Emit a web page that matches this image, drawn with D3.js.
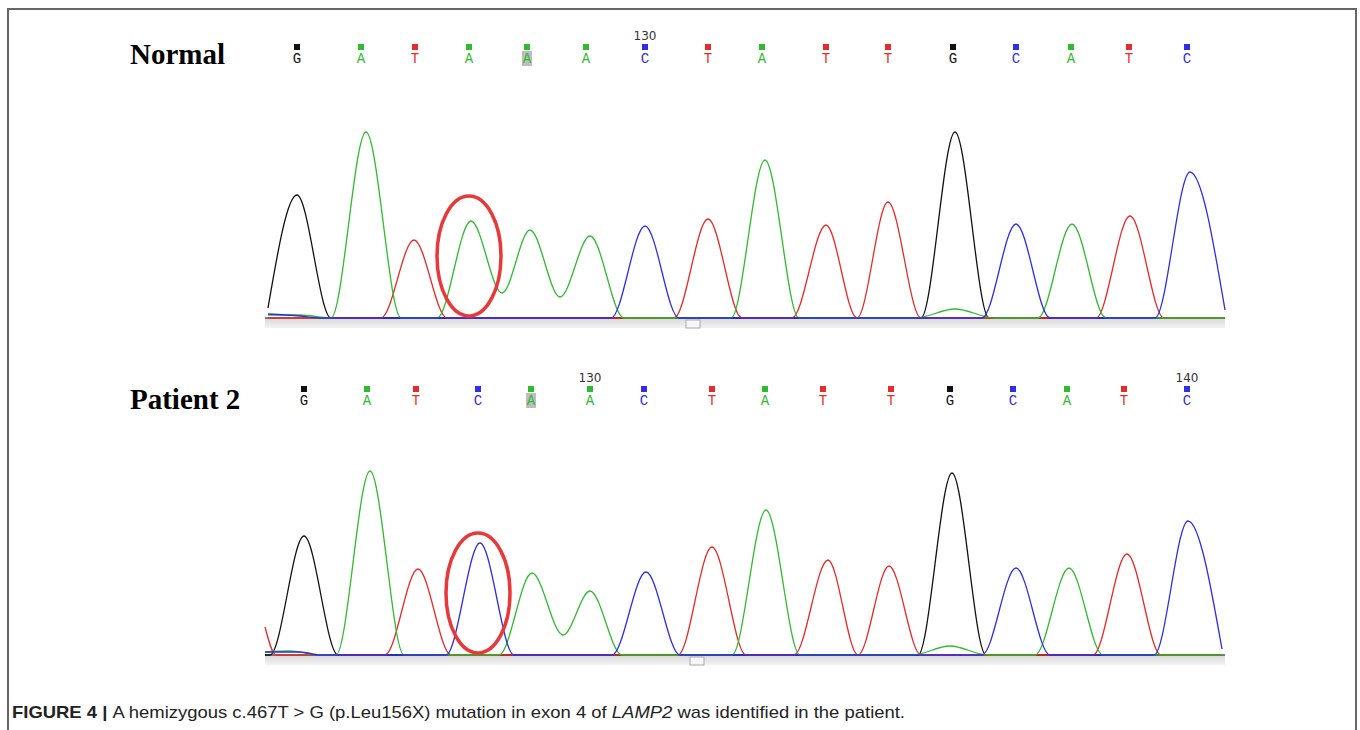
<!DOCTYPE html>
<html>
<head>
	<title>Figure 4 chromatogram</title>
	<script src="https://d3js.org/d3.v7.min.js"></script>
	<style>
		body { margin: 0; background: #fff; }
	</style>
</head>
<body>
	<div id="fig"></div>
	<script>
		// base calls (scan position along the trace, letter)
		var callsNormal = "GATAAACTATTGCATC".split("");
		var callPosNormal = [32, 96, 150, 204, 262, 321, 380, 443, 497, 561, 623, 688, 751, 806, 864, 922];
		var callsPatient = "GATCAACTATTGCATC".split("");
		var callPosPatient = [39, 102, 151, 213, 266, 325, 379, 447, 500, 558, 626, 685, 748, 802, 859, 922];

		// position numbers shown above some calls: [call index, label]
		var numbersNormal = [[6, "130"]];
		var numbersPatient = [[5, "130"], [15, "140"]];

		// trace points per channel: [scan, signal]
		var normalA = [[3,3],[35,3],[66,0],[101,186],[136,0],[172,0],[206,97],[237,25],[265,88],[295,21],[325,82],[359,0],[466,0],[500,158],[534,0],[650,0],[690,9],[730,0],[773,0],[807,94],[841,0],[960,0]];
		var normalC = [[3,4],[35,2],[55,0],[346,0],[380,92],[414,0],[717,0],[751,94],[785,0],[890,0],[925,146],[960,8]];
		var normalG = [[3,10],[32,123],[66,0],[656,0],[690,186],[724,0],[960,0]];
		var normalT = [[3,0],[116,0],[149,78],[182,0],[409,0],[443,99],[477,0],[527,0],[561,93],[592,0],[623,116],[656,0],[831,0],[865,102],[899,0],[960,0]];

		var patientA = [[0,3],[25,4],[55,0],[71,0],[105,184],[139,0],[234,0],[267,82],[298,20],[325,64],[357,0],[467,0],[501,145],[535,0],[647,0],[685,9],[723,0],[770,0],[804,87],[838,0],[957,0]];
		var patientC = [[0,3],[35,3],[55,0],[181,0],[215,112],[249,0],[347,0],[381,83],[415,0],[717,0],[751,87],[785,0],[889,0],[923,134],[957,6]];
		var patientG = [[0,0],[5,0],[39,119],[73,0],[653,0],[687,182],[721,0],[957,0]];
		var patientT = [[0,28],[11,0],[120,0],[153,86],[186,0],[413,0],[447,108],[481,0],[529,0],[563,95],[593,0],[624,89],[656,0],[828,0],[862,101],[896,0],[957,0]];

		var baseColor = {A: "#2fba2f", C: "#2f2fe0", G: "#111111", T: "#e52b2b"};

		var svg = d3.select("#fig")
			.append("svg")
			.attr("width", 1360)
			.attr("height", 730);

		// outer frame (left, top, right)
		svg.append("path")
			.attr("d", "M8,730 L8,9 L1356,9 L1356,730")
			.style("fill", "none")
			.style("stroke", "#666")
			.style("stroke-width", 2);

		var grad = svg.append("defs").append("linearGradient")
			.attr("id", "bar").attr("x1", 0).attr("y1", 0).attr("x2", 0).attr("y2", 1);
		grad.append("stop").attr("offset", "0%").attr("stop-color", "#d9d9d9");
		grad.append("stop").attr("offset", "100%").attr("stop-color", "#f3f3f3");

		function panel(opts){
			var x = d3.scaleLinear().domain([0, 960]).range([opts.x0, 1225]);
			var y = d3.scaleLinear().domain([0, 200]).range([opts.baseline, opts.baseline - 200]);
			var g = svg.append("g");

			g.append("text")
				.text(opts.title)
				.attr("x", 130)
				.attr("y", opts.titleY)
				.style("font-family", "'Liberation Serif', 'Times New Roman', serif")
				.style("font-weight", "bold")
				.style("font-size", "29px");

			// gray scroll bar under the trace
			g.append("rect")
				.attr("x", x(0)).attr("y", opts.baseline)
				.attr("width", x(960) - x(0)).attr("height", 10)
				.style("fill", "url(#bar)");
			g.append("rect")
				.attr("x", opts.thumb).attr("y", opts.baseline + 2)
				.attr("width", 14).attr("height", 8)
				.style("fill", "#f6f6f6")
				.style("stroke", "#aaa");
			g.append("line")
				.attr("x1", x(0)).attr("x2", x(960))
				.attr("y1", opts.baseline).attr("y2", opts.baseline)
				.style("stroke", "#555")
				.style("stroke-width", 1.5);

			var line = d3.line()
				.x(function(d){ return x(d[0]); })
				.y(function(d){ return y(d[1]); })
				.curve(d3.curveMonotoneX);

			["G", "T", "A", "C"].forEach(function(b){
				g.append("path")
					.attr("d", line(opts.traces[b]))
					.style("fill", "none")
					.style("stroke", baseColor[b])
					.style("stroke-width", 1.3);
			});

			// base calls
			opts.calls.forEach(function(b, i){
				var cx = x(opts.pos[i]);
				if (i == 4) {
					g.append("rect")
						.attr("x", cx - 5).attr("y", opts.callY - 12)
						.attr("width", 10).attr("height", 15)
						.style("fill", "#bdbdbd");
				}
				g.append("rect")
					.attr("x", cx - 3).attr("y", opts.callY - 19)
					.attr("width", 6).attr("height", 6)
					.style("fill", baseColor[b]);
				g.append("text")
					.text(b)
					.attr("x", cx)
					.attr("y", opts.callY)
					.attr("text-anchor", "middle")
					.style("font-family", "'Liberation Mono', 'DejaVu Sans Mono', monospace")
					.style("font-size", "14px")
					.style("fill", baseColor[b]);
			});

			opts.numbers.forEach(function(n){
				g.append("text")
					.text(n[1])
					.attr("x", x(opts.pos[n[0]]))
					.attr("y", opts.callY - 23)
					.attr("text-anchor", "middle")
					.style("font-family", "'DejaVu Sans', sans-serif")
					.style("font-size", "12px")
					.style("fill", "#333");
			});

			// red circle round the mutated base
			g.append("ellipse")
				.attr("cx", x(opts.pos[3]))
				.attr("cy", y(62))
				.attr("rx", 32)
				.attr("ry", 60)
				.style("fill", "none")
				.style("stroke", "#e8383a")
				.style("stroke-width", 3.5);
		}

		panel({
			title: "Normal", titleY: 64, x0: 265, baseline: 318, thumb: 686, callY: 63,
			calls: callsNormal, pos: callPosNormal, numbers: numbersNormal,
			traces: {A: normalA, C: normalC, G: normalG, T: normalT}
		});

		panel({
			title: "Patient 2", titleY: 409, x0: 265, baseline: 655, thumb: 690, callY: 405,
			calls: callsPatient, pos: callPosPatient, numbers: numbersPatient,
			traces: {A: patientA, C: patientC, G: patientG, T: patientT}
		});

		// caption
		var cap = svg.append("text")
			.attr("x", 12)
			.attr("y", 718)
			.attr("textLength", 893)
			.attr("lengthAdjust", "spacingAndGlyphs")
			.style("font-family", "'Liberation Sans', Arial, sans-serif")
			.style("font-size", "17px")
			.style("fill", "#222");
		cap.append("tspan").text("FIGURE 4 | ").style("font-weight", "bold");
		cap.append("tspan").text("A hemizygous c.467T > G (p.Leu156X) mutation in exon 4 of ");
		cap.append("tspan").text("LAMP2").style("font-style", "italic");
		cap.append("tspan").text(" was identified in the patient.");
	</script>
</body>
</html>
